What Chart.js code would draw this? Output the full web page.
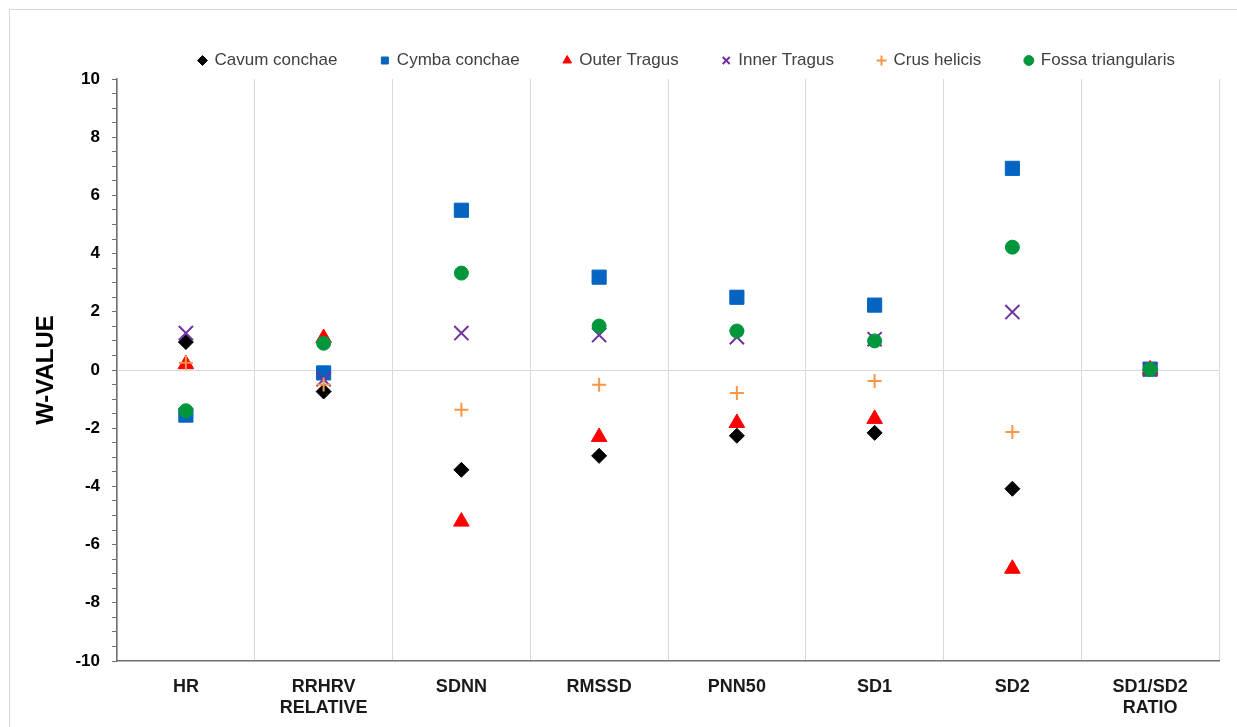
<!DOCTYPE html>
<html>
<head>
<meta charset="utf-8">
<script src="https://cdn.jsdelivr.net/npm/chart.js@4"></script>
<style>
  body { margin: 0; background: #fff; }
  #frame { position: absolute; left: 9px; top: 9px; width: 1300px; height: 800px; border: 1.5px solid #d9d9d9; }
  #box { position: absolute; left: 0; top: 0; width: 1237px; height: 727px; }
</style>
</head>
<body>
<div id="frame"></div>
<div id="box"><canvas id="chart"></canvas></div>
<script>
// categories on the x axis
const categories = ['HR', ['RRHRV', 'RELATIVE'], 'SDNN', 'RMSSD', 'PNN50', 'SD1', 'SD2', ['SD1/SD2', 'RATIO']];

// W-values per site
const cavumConchae = [0.96, -0.74, -3.43, -2.95, -2.26, -2.16, -4.08, 0.02];
const cymbaConchae = [-1.55, -0.1, 5.49, 3.19, 2.5, 2.23, 6.93, 0.03];
const outerTragus = [0.2, 1.1, -5.21, -2.3, -1.82, -1.68, -6.83, 0.02];
const innerTragus = [1.27, -0.32, 1.27, 1.2, 1.13, 1.06, 1.99, 0.02];
const crusHelicis = [0.25, -0.5, -1.37, -0.51, -0.79, -0.38, -2.13, 0.02];
const fossaTriangularis = [-1.4, 0.92, 3.33, 1.51, 1.34, 1.0, 4.22, 0.02];

const yMin = -10, yMax = 10, yMajor = 2, yMinor = 0.5;

const FONT = "'Liberation Sans', Arial, sans-serif";
const AXIS = '#707070';
const GRID = '#d9d9d9';

function series(label, data, style, color, radius, idx) {
  return {
    label: label,
    data: data,
    showLine: false,
    pointStyle: style,
    pointRadius: radius,
    pointHoverRadius: radius,
    pointBackgroundColor: color,
    pointBorderColor: color,
    backgroundColor: color,
    borderColor: color,
    pointBorderWidth: (style === 'cross' || style === 'crossRot') ? 2 : 1,
    borderWidth: 2,
    order: 10 - idx   // later series sit on top, like the original
  };
}

const datasets = [
  series('Cavum conchae', cavumConchae, 'rectRot', '#000000', 7.5, 0),
  series('Cymba conchae', cymbaConchae, 'rect', '#0563c1', 10, 1),
  series('Outer Tragus', outerTragus, 'triangle', '#ff0000', 9, 2),
  series('Inner Tragus', innerTragus, 'crossRot', '#7030a0', 10, 3),
  series('Crus helicis', crusHelicis, 'cross', '#f79646', 7, 4),
  series('Fossa triangularis', fossaTriangularis, 'circle', '#00963c', 7, 5)
];

new Chart(document.getElementById('chart'), {
  type: 'line',
  data: { labels: categories, datasets: datasets },
  options: {
    responsive: true,
    maintainAspectRatio: false,
    animation: false,
    layout: { padding: { top: 8, right: 18, bottom: 0, left: 0 } },
    plugins: {
      tooltip: { enabled: false },
      legend: {
        position: 'top',
        align: 'end',
        labels: {
          usePointStyle: true,
          boxWidth: 7,
          boxHeight: 7,
          padding: 44,
          color: '#404040',
          font: { family: FONT, size: 17 },
          sort: (a, b) => a.datasetIndex - b.datasetIndex
        }
      }
    },
    scales: {
      x: {
        type: 'category',
        offset: true,
        grid: {
          offset: true,
          drawTicks: false,
          color: ctx => ctx.index === categories.length ? AXIS : GRID,
          lineWidth: 1
        },
        border: { color: AXIS, width: 1.5 },
        ticks: {
          color: '#1a1a1a',
          padding: 15,
          maxRotation: 0,
          autoSkip: false,
          font: { family: FONT, size: 18, weight: 'bold' }
        },
        afterFit: s => { s.height = 727 - 661; }
      },
      y: {
        min: yMin,
        max: yMax,
        grid: {
          color: ctx => (ctx.tick && ctx.tick.value === 0) ? GRID : 'rgba(0,0,0,0)',
          tickColor: AXIS,
          tickLength: 5,
          lineWidth: 1
        },
        border: { color: AXIS, width: 1.5 },
        ticks: {
          stepSize: yMinor,
          autoSkip: false,
          padding: 12,
          color: '#000',
          font: { family: FONT, size: 17, weight: 'bold' },
          callback: v => (Math.abs(v % yMajor) < 1e-9 ? String(v) : '')
        },
        title: {
          display: true,
          text: 'W-VALUE',
          color: '#000',
          padding: { top: 32, bottom: 0 },
          font: { family: FONT, size: 24, weight: 'bold' }
        },
        afterFit: s => { s.width = 117; }
      }
    }
  }
});
</script>
</body>
</html>
